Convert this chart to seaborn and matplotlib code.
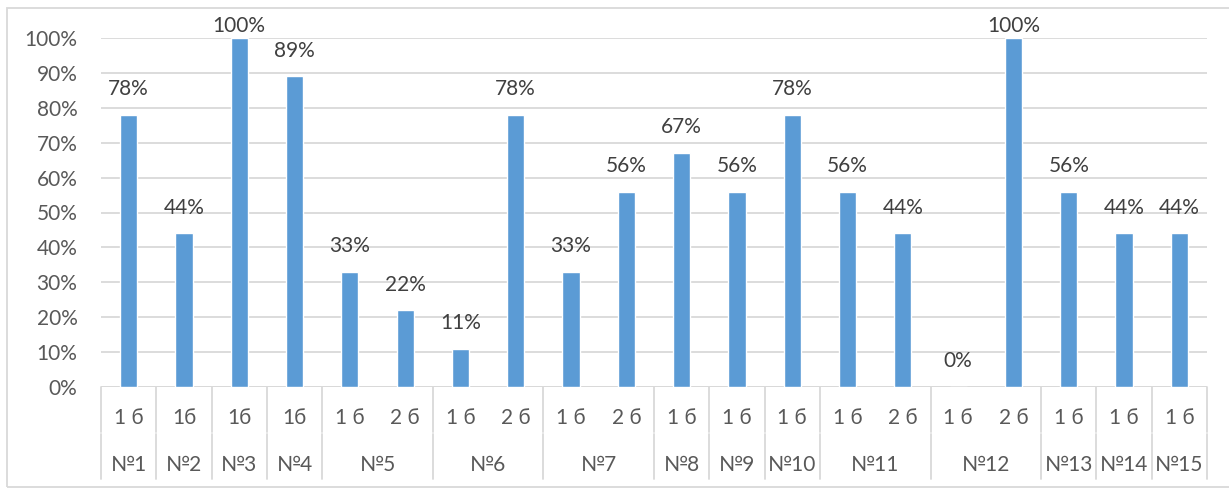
import pandas as pd
import matplotlib.pyplot as plt
import matplotlib.transforms as mtransforms
import matplotlib.patches as mpatches
import seaborn as sns

# данные
groups = ['№1', '№2', '№3', '№4', '№5', '№5', '№6', '№6', '№7', '№7',
          '№8', '№9', '№10', '№11', '№11', '№12', '№12', '№13', '№14', '№15']
subs = ['1 б', '1б', '1б', '1б', '1 б', '2 б', '1 б', '2 б', '1 б', '2 б',
        '1 б', '1 б', '1 б', '1 б', '2 б', '1 б', '2 б', '1 б', '1 б', '1 б']
values = [78, 44, 100, 89, 33, 22, 11, 78, 33, 56,
          67, 56, 78, 56, 44, 0, 100, 56, 44, 44]

df = pd.DataFrame({'group': groups, 'sub': subs, 'value': values})
df['cat'] = [f'{g} {s}' for g, s in zip(groups, subs)]

sns.set_theme(style="white")
plt.rcParams['font.family'] = ['Lato', 'Noto Sans', 'DejaVu Sans']

W, H = 1229, 488
FS = 15
fig = plt.figure(figsize=(W / 100, H / 100), dpi=100)
ax = fig.add_axes([101 / W, 1 - 387 / H, 1106 / W, 349 / H])

sns.barplot(data=df, x='cat', y='value', color='#5B9BD5', width=0.31,
            saturation=1, ax=ax, zorder=3)

ax.set_xlim(-0.5, len(df) - 0.5)
ax.set_ylim(0, 100)
ax.set_yticks(range(0, 101, 10))
ax.set_yticklabels([f'{t}%' for t in range(0, 101, 10)], fontsize=FS, color='#595959')
ax.tick_params(axis='y', length=0, pad=17)
ax.set_xticks([])
ax.set_xlabel('')
ax.set_ylabel('')
for s in ax.spines.values():
    s.set_visible(False)
ax.grid(axis='y', color='#D9D9D9', linewidth=1.3, zorder=0)
ax.axhline(0, color='#D9D9D9', linewidth=1.3, zorder=1)

# подписи данных
for i, v in enumerate(values):
    ax.text(i, min(v + 4.5, 100.6), f'{v}%', ha='center', va='bottom',
            fontsize=FS, color='#404040', clip_on=False)

# многоуровневая ось категорий
tr = mtransforms.blended_transform_factory(ax.transData, fig.transFigure)
line_kw = dict(color='#D9D9D9', linewidth=1.3, transform=tr, clip_on=False)
y0, ymid, y1 = 1 - 387 / H, 1 - 433 / H, 1 - 479 / H

bounds = [-0.5]
for i in range(1, len(groups)):
    if groups[i] != groups[i - 1]:
        bounds.append(i - 0.5)
bounds.append(len(groups) - 0.5)
for b in bounds:
    ax.plot([b, b], [y0, ymid + 0.002], **line_kw)
    ax.plot([b, b], [ymid - 0.002, y1], **line_kw)

for i, s in enumerate(subs):
    ax.text(i, 1 - 418 / H, s, transform=tr, ha='center', va='center',
            fontsize=FS, color='#595959')

for a, b in zip(bounds[:-1], bounds[1:]):
    ax.text((a + b) / 2, 1 - 465 / H, groups[int(a + 0.5)], transform=tr,
            ha='center', va='center', fontsize=FS, color='#595959')

# рамка диаграммы
fig.patches.append(mpatches.Rectangle((7 / W, 1 - 487 / H), (1240 - 7) / W, (487 - 8) / H,
                                      transform=fig.transFigure, fill=False,
                                      edgecolor='#D9D9D9', linewidth=1.3))

fig.savefig('out.png', dpi=100)
